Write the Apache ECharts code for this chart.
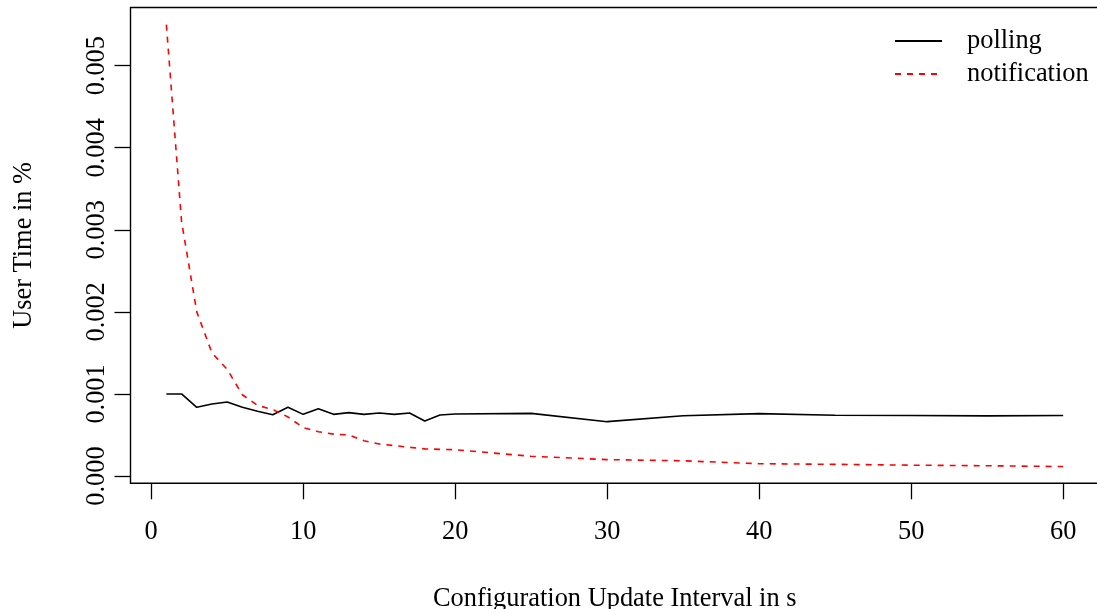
<!DOCTYPE html>
<html>
<head>
<meta charset="utf-8">
<script src="https://cdn.jsdelivr.net/npm/echarts@6/dist/echarts.min.js"></script>
<style>
html,body{margin:0;padding:0;background:#fff;}
#chart{width:1097px;height:609px;}
</style>
</head>
<body>
<div id="chart"></div>
<script>
// Data
const intervals = [1,2,3,4,5,6,7,8,9,10,11,12,13,14,15,16,17,18,19,20,25,30,35,40,45,50,55,60];
const polling = [0.00100,0.00100,0.000837,0.000877,0.000902,0.000837,0.000788,0.000747,0.000837,0.000751,
                 0.000820,0.000751,0.000772,0.000751,0.000768,0.000751,0.000768,0.000670,0.000743,0.000755,
                 0.000763,0.000662,0.000735,0.000760,0.000740,0.000737,0.000733,0.000737];
const notification = [0.00550,0.00310,0.00200,0.00150,0.00130,0.00099,0.00086,0.00081,0.00072,0.00059,
                      0.00054,0.00051,0.00050,0.00043,0.00039,0.00037,0.00035,0.00033,0.000325,0.00032,
                      0.00024,0.00020,0.000185,0.00015,0.000142,0.000132,0.000125,0.000115];
const xTicks = [0,10,20,30,40,50,60];
const yTicks = [0,0.001,0.002,0.003,0.004,0.005];
const seriesNames = ['polling','notification'];

const FONT = 'Liberation Serif';
const FS = 26.4;

const chart = echarts.init(document.getElementById('chart'), null, {renderer:'canvas'});
chart.setOption({
  animation:false,
  backgroundColor:'#fff',
  grid:{left:130.5, top:7.5, width:968.5, height:475.8, show:true, borderColor:'#000', borderWidth:1.4,
        containLabel:false, outerBoundsMode:'none'},
  legend:{
    orient:'vertical', left:894, top:28, padding:0, itemWidth:47, itemHeight:24, itemGap:7,
    itemStyle:{opacity:0},
    textStyle:{fontFamily:FONT, fontSize:FS, color:'#000', padding:[0,0,0,20], lineHeight:24},
    data:seriesNames
  },
  xAxis:{
    type:'value', min:-1.36, max:62.36,
    name:'Configuration Update Interval in s', nameLocation:'middle', nameGap:103, nameMoveOverlap:false,
    nameTextStyle:{fontFamily:FONT, fontSize:FS, color:'#000'},
    axisLine:{show:false, onZero:false},
    splitLine:{show:false},
    axisTick:{show:true, length:16, inside:false, customValues:xTicks, lineStyle:{color:'#000', width:1.3}},
    axisLabel:{customValues:xTicks, margin:36, fontFamily:FONT, fontSize:FS, color:'#000'}
  },
  yAxis:{
    type:'value', min:-0.000089, max:0.005709,
    name:'User Time in %', nameLocation:'middle', nameGap:93, nameRotate:90, nameMoveOverlap:false,
    nameTextStyle:{fontFamily:FONT, fontSize:FS, color:'#000'},
    axisLine:{show:false, onZero:false},
    splitLine:{show:false},
    axisTick:{show:true, length:16, inside:false, customValues:yTicks, lineStyle:{color:'#000', width:1.3}},
    axisLabel:{customValues:yTicks, rotate:90, margin:20, fontFamily:FONT, fontSize:FS, color:'#000',
      formatter:function(v){return v.toFixed(3);}}
  },
  series:[
    {name:seriesNames[0], type:'line', data:intervals.map((x,i)=>[x,polling[i]]), symbol:'none',
     lineStyle:{color:'#000', width:1.6, type:'solid'}, itemStyle:{color:'#000'}},
    {name:seriesNames[1], type:'line', data:intervals.map((x,i)=>[x,notification[i]]), symbol:'none',
     lineStyle:{color:'#ff0000', width:1.6, type:[6,6]}, itemStyle:{color:'#ff0000'}}
  ]
});
</script>
</body>
</html>
